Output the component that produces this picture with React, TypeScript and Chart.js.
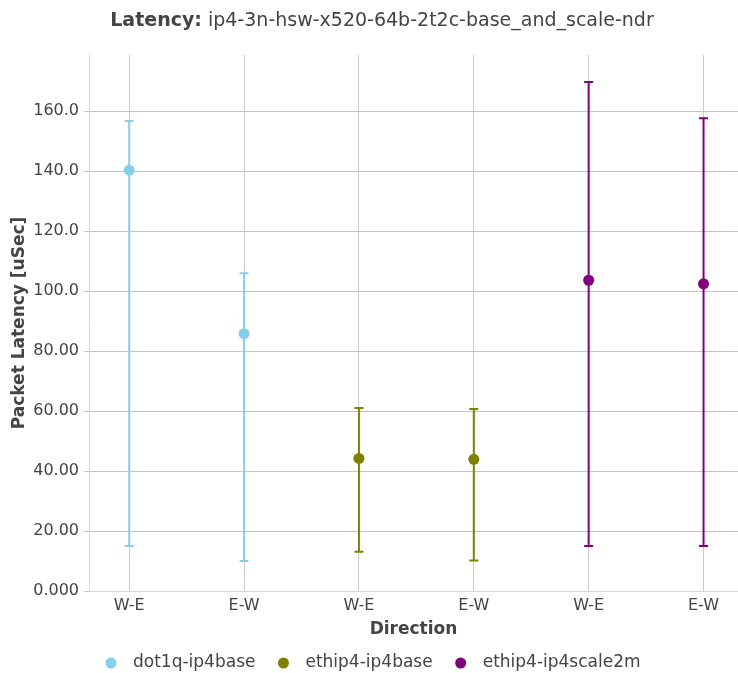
import React, { useEffect, useRef } from 'react';
import { Chart, registerables } from 'chart.js';

Chart.register(...registerables);

const categories = ['W-E', 'E-W', 'W-E', 'E-W', 'W-E', 'E-W'];
const seriesNames = ['dot1q-ip4base', 'ethip4-ip4base', 'ethip4-ip4scale2m'];
const seriesColors = ['#87ceeb', '#808000', '#800080'];

const dot1qX = [0, 1];
const dot1qAvg = [140.3, 85.8];
const dot1qMin = [15.0, 10.0];
const dot1qMax = [156.7, 105.9];

const ethX = [2, 3];
const ethAvg = [44.2, 43.9];
const ethMin = [13.1, 10.2];
const ethMax = [61.0, 60.7];

const scaleX = [4, 5];
const scaleAvg = [103.6, 102.4];
const scaleMin = [15.0, 15.0];
const scaleMax = [169.7, 157.6];

const yTickValues = [0, 20, 40, 60, 80, 100, 120, 140, 160];

const titleBold = 'Latency:';
const titleRest = ' ip4-3n-hsw-x520-64b-2t2c-base_and_scale-ndr';
const xTitle = 'Direction';
const yTitle = 'Packet Latency [uSec]';

const FONT = "'DejaVu Sans', sans-serif";
const TEXT = '#444444';

const errorBarPlugin = {
  id: 'errorBars',
  beforeDatasetsDraw(chart: any) {
    const { ctx, scales } = chart;
    const xs = scales.x;
    const ys = scales.y;
    chart.data.datasets.forEach((ds: any, di: number) => {
      const meta = chart.getDatasetMeta(di);
      if (meta.hidden) return;
      ds.data.forEach((pt: any, i: number) => {
        const px = xs.getPixelForValue(pt.x);
        const yLo = ys.getPixelForValue(ds.errMin[i]);
        const yHi = ys.getPixelForValue(ds.errMax[i]);
        ctx.save();
        ctx.strokeStyle = ds.backgroundColor;
        ctx.lineWidth = 2;
        ctx.beginPath();
        ctx.moveTo(px, yLo);
        ctx.lineTo(px, yHi);
        ctx.moveTo(px - 4.5, yLo);
        ctx.lineTo(px + 4.5, yLo);
        ctx.moveTo(px - 4.5, yHi);
        ctx.lineTo(px + 4.5, yHi);
        ctx.stroke();
        ctx.restore();
      });
    });
  },
};

const titleLegendPlugin = {
  id: 'titleLegend',
  afterDraw(chart: any) {
    const { ctx } = chart;
    ctx.save();
    // title
    ctx.textBaseline = 'middle';
    ctx.textAlign = 'left';
    ctx.fillStyle = TEXT;
    ctx.font = `bold 19px ${FONT}`;
    const wb = ctx.measureText(titleBold).width;
    ctx.font = `19px ${FONT}`;
    const wr = ctx.measureText(titleRest).width;
    const tx = 382 - (wb + wr) / 2;
    ctx.font = `bold 19px ${FONT}`;
    ctx.fillText(titleBold, tx, 21);
    ctx.font = `19px ${FONT}`;
    ctx.fillText(titleRest, tx + wb, 21);

    // legend
    ctx.font = `17px ${FONT}`;
    let x = 111;
    const y = 663;
    chart.data.datasets.forEach((ds: any) => {
      ctx.fillStyle = ds.backgroundColor;
      ctx.beginPath();
      ctx.arc(x, y, 5.5, 0, Math.PI * 2);
      ctx.fill();
      ctx.fillStyle = TEXT;
      ctx.fillText(ds.label, x + 22, y);
      x += 22 + ctx.measureText(ds.label).width + 28;
    });
    ctx.restore();
  },
};

function makeDataset(label: string, color: string, xs: number[], avg: number[], mn: number[], mx: number[]) {
  return {
    label,
    data: xs.map((x, i) => ({ x, y: avg[i] })),
    errMin: mn,
    errMax: mx,
    backgroundColor: color,
    borderColor: color,
    pointRadius: 5.5,
    pointHoverRadius: 5.5,
    pointBorderWidth: 0,
    showLine: false,
  };
}

export default function App() {
  const ref = useRef<HTMLCanvasElement>(null);
  useEffect(() => {
    const chart = new Chart(ref.current as HTMLCanvasElement, {
      type: 'scatter',
      data: {
        datasets: [
          makeDataset(seriesNames[0], seriesColors[0], dot1qX, dot1qAvg, dot1qMin, dot1qMax),
          makeDataset(seriesNames[1], seriesColors[1], ethX, ethAvg, ethMin, ethMax),
          makeDataset(seriesNames[2], seriesColors[2], scaleX, scaleAvg, scaleMin, scaleMax),
        ] as any,
      },
      options: {
        animation: false,
        responsive: false,
        maintainAspectRatio: false,
        events: [],
        layout: { autoPadding: false, padding: { top: 55, left: 0, right: 0, bottom: 30 } },
        plugins: {
          legend: { display: false },
          title: { display: false },
          tooltip: { enabled: false },
        },
        scales: {
          x: {
            type: 'linear',
            min: -0.35,
            max: 5.3,
            afterBuildTicks: (s: any) => {
              s.ticks = categories.map((_, i) => ({ value: i }));
            },
            afterFit: (s: any) => {
              s.height = 52;
              s.paddingLeft = 0;
              s.paddingRight = 0;
            },
            ticks: {
              callback: (v: any) => categories[Math.round(Number(v))] ?? '',
              font: { family: FONT, size: 16 },
              color: TEXT,
              padding: 5,
              maxRotation: 0,
              autoSkip: false,
            },
            grid: { color: '#cccccc', lineWidth: 1, drawTicks: false },
            border: { display: true, color: '#d6d6d6' },
            title: {
              display: true,
              text: xTitle,
              font: { family: FONT, size: 17, weight: 'bold' },
              color: TEXT,
              padding: { top: 0, bottom: 3 },
            },
          },
          y: {
            type: 'linear',
            min: 0,
            max: 178.7,
            afterBuildTicks: (s: any) => {
              s.ticks = yTickValues.map((v) => ({ value: v }));
            },
            afterFit: (s: any) => {
              s.width = 89;
              s.paddingLeft = 0;
              s.paddingRight = 0;
            },
            ticks: {
              callback: (v: any) => Number(v).toPrecision(4),
              font: { family: FONT, size: 16 },
              color: TEXT,
              padding: 5,
            },
            grid: { color: '#c4c4c4', lineWidth: 1, drawTicks: true, tickLength: 5 },
            border: { display: true, color: '#d6d6d6' },
            title: {
              display: true,
              text: yTitle,
              font: { family: FONT, size: 17, weight: 'bold' },
              color: TEXT,
              padding: { top: 9, bottom: 0 },
            },
          },
        },
      },
      plugins: [errorBarPlugin, titleLegendPlugin],
    });
    return () => chart.destroy();
  }, []);
  return (
    <div style={{ position: 'absolute', left: 0, top: 0, width: 738, height: 673, background: '#fff' }}>
      <canvas ref={ref} width={738} height={673} />
    </div>
  );
}
